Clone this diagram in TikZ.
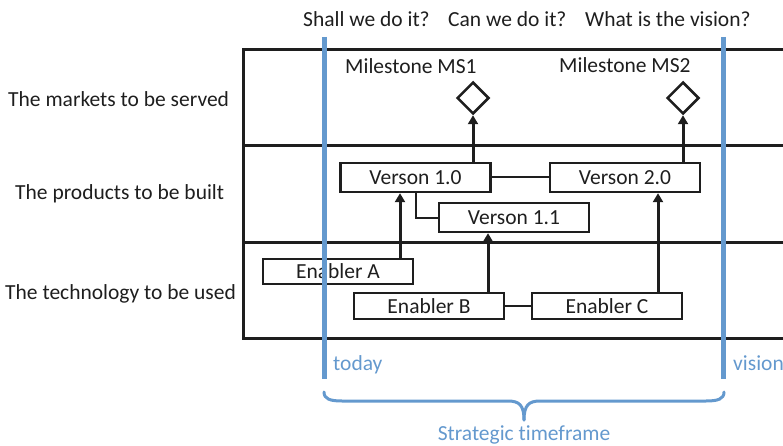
\documentclass[tikz,border=0pt]{standalone}
\usepackage{fontspec}
\setmainfont{Carlito}[Ligatures=NoCommon]
\usetikzlibrary{shapes.geometric,arrows.meta}
\definecolor{ink}{RGB}{30,30,30}
\definecolor{tblue}{RGB}{100,153,206}
\begin{document}
\begin{tikzpicture}[x=1pt,y=-1pt,
  every node/.style={font=\fontsize{21.5}{25}\selectfont, text=ink},
  frame/.style={draw=ink, line width=3pt},
  itembox/.style={draw=ink, line width=2.4pt, rectangle, minimum width=150pt, inner sep=0pt},
  milestone/.style={draw=ink, line width=2.5pt, diamond, minimum width=32pt, minimum height=32pt, inner sep=0pt},
  arr/.style={draw=ink, line width=3pt, -{Triangle[length=9pt,width=10pt]}},
  link/.style={draw=ink, line width=2pt},
  timeline/.style={draw=tblue, line width=5pt},
  bluetext/.style={text=tblue}]
\useasboundingbox (0,0) rectangle (783,446);

% swim-lane frame
\draw[frame] (243,50) -- (783,50);
\draw[frame] (243,146) -- (783,146);
\draw[frame] (243,242) -- (783,242);
\draw[frame] (243,338) -- (783,338);
\draw[frame] (243,48.5) -- (243,339.5);

% lane titles
\node[anchor=base west, inner sep=0pt] (lm) at (8,107) {The markets to be served};
\node[anchor=base west, inner sep=0pt] (lp) at (15,200) {The products to be built};
\node[anchor=base west, inner sep=0pt] (lt) at (5,299) {The technology to be used};

% questions
\node[anchor=base west, inner sep=0pt] (q1) at (303,27) {Shall we do it?};
\node[anchor=base west, inner sep=0pt] (q2) at (448,27) {Can we do it?};
\node[anchor=base west, inner sep=0pt] (q3) at (585,27) {What is the vision?};

% milestones
\node[anchor=base west, inner sep=0pt] (ms1t) at (345,74) {Milestone MS1};
\node[anchor=base west, inner sep=0pt] (ms2t) at (559,73) {Milestone MS2};
\node[milestone] (ms1) at (473,98) {};
\node[milestone] (ms2) at (683,98) {};

% products
\node[itembox, minimum height=29pt] (v10) at (415.5,177.5) {Verson 1.0};
\node[itembox, minimum height=29pt] (v20) at (625,177.5) {Verson 2.0};
\node[itembox, minimum height=29pt] (v11) at (514,217.5) {Verson 1.1};

% enablers
\node[itembox, minimum height=25pt] (ea) at (338,271.5) {Enabler A};
\node[itembox, minimum height=26pt] (eb) at (429,306) {Enabler B};
\node[itembox, minimum height=26pt] (ec) at (607,306) {Enabler C};

% links
\coordinate (xa) at (400,0);
\coordinate (xb) at (488,0);
\coordinate (xc) at (658,0);
\coordinate (xm1) at (473,0);
\coordinate (xm2) at (683,0);
\draw[link] (v10.east) -- (v20.west);
\draw[link] (v10.south) -- (v10.south |- v11.west) -- (v11.west);
\draw[link] (eb.east) -- (ec.west);
\draw[arr] (xa |- ea.north) -- (xa |- v10.south);
\draw[arr] (xb |- eb.north) -- (xb |- v11.south);
\draw[arr] (xc |- ec.north) -- (xc |- v20.south);
\draw[arr] (xm1 |- v10.north) -- (ms1.south);
\draw[arr] (xm2 |- v20.north) -- (ms2.south);

% timeline markers
\draw[timeline] (324,37) coordinate (tdtop) -- (324,379) coordinate (tdbot);
\draw[timeline] (723,37) coordinate (vstop) -- (723,379) coordinate (vsbot);
\node[anchor=base west, inner sep=0pt, bluetext] (today) at (333,370) {today};
\node[anchor=base west, inner sep=0pt, bluetext] (vision) at (733,370) {vision};

% strategic timeframe brace
\draw[draw=tblue, line width=3pt, line cap=round]
  (324,392) .. controls (324,399) and (330,401) .. (342,401)
  -- (508,401) .. controls (519,401) and (524,405) .. (524,420);
\draw[draw=tblue, line width=3pt, line cap=round]
  (724,392) .. controls (724,399) and (718,401) .. (706,401)
  -- (540,401) .. controls (529,401) and (524,405) .. (524,420);
\node[anchor=base, inner sep=0pt, bluetext] (stf) at (524,440) {Strategic timeframe};
\end{tikzpicture}
\end{document}
